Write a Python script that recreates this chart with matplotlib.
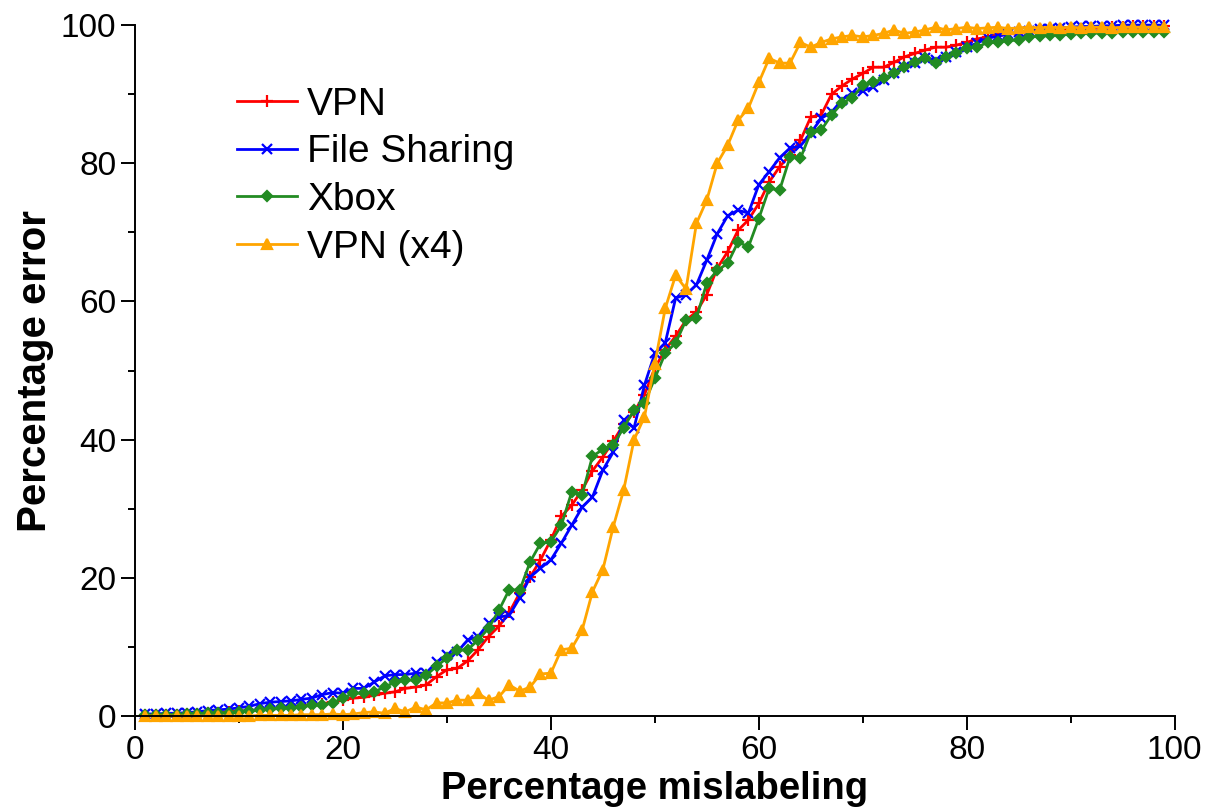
import numpy as np
import matplotlib
matplotlib.use("Agg")
import matplotlib.pyplot as plt
from matplotlib.ticker import MultipleLocator

# --- data ---
x = np.arange(1, 100)

vpn = [0.1, 0.1, 0.2, 0.2, 0.3, 0.3, 0.4, 0.5, 0.6, 0.7,
       0.8, 0.9, 1.0, 1.2, 1.3, 1.5, 1.6, 1.8, 2.0, 2.3,
       2.6, 2.7, 3.0, 3.3, 3.5, 4.0, 4.2, 4.5, 5.7, 6.7,
       6.9, 8.0, 9.6, 11.5, 13.0, 15.0, 17.8, 20.1, 22.6, 25.5,
       28.9, 30.5, 32.7, 35.5, 37.5, 39.8, 42.2, 44.0, 46.5, 50.4,
       53.0, 55.0, 57.3, 58.5, 61.0, 64.8, 67.2, 70.3, 71.8, 74.2,
       77.3, 79.5, 81.2, 83.3, 86.7, 87.0, 90.0, 91.2, 92.2, 93.0,
       93.9, 93.9, 94.6, 95.4, 95.9, 96.4, 96.8, 96.8, 97.1, 97.5,
       98.0, 98.3, 98.5, 98.7, 98.9, 99.0, 99.1, 99.3, 99.4, 99.5,
       99.5, 99.6, 99.6, 99.7, 99.7, 99.8, 99.8, 99.8, 99.8]

file_sharing = [0.3, 0.3, 0.4, 0.4, 0.5, 0.6, 0.8, 0.9, 1.0, 1.2,
                1.4, 1.8, 2.0, 2.1, 2.2, 2.4, 2.6, 3.1, 3.4, 3.3,
                4.0, 4.0, 4.9, 5.8, 6.0, 6.0, 6.2, 6.2, 7.8, 8.8,
                9.3, 11.0, 11.5, 13.4, 14.3, 14.6, 17.1, 20.1, 21.4, 22.6,
                25.0, 27.6, 30.2, 31.7, 35.6, 38.2, 42.8, 41.7, 47.9, 52.5,
                54.0, 60.5, 61.0, 62.4, 66.0, 69.8, 72.4, 73.2, 72.8, 76.9,
                78.8, 80.8, 82.2, 82.5, 84.4, 86.5, 87.4, 89.2, 90.2, 90.5,
                91.0, 92.0, 93.0, 93.9, 94.5, 95.2, 95.0, 95.4, 96.1, 96.8,
                97.4, 98.1, 98.4, 98.7, 99.0, 99.2, 99.4, 99.5, 99.6, 99.7,
                99.8, 99.8, 99.9, 99.9, 100.0, 100.0, 100.0, 100.0, 100.0]

xbox = [0.1, 0.1, 0.2, 0.2, 0.3, 0.3, 0.4, 0.4, 0.5, 0.6,
        0.8, 0.9, 1.0, 1.1, 1.2, 1.3, 1.6, 1.6, 1.9, 2.6,
        3.3, 3.3, 3.5, 4.2, 4.9, 5.2, 5.2, 5.9, 7.2, 8.4,
        9.5, 9.6, 11.0, 12.7, 15.3, 18.3, 18.2, 22.3, 25.0, 25.2,
        27.6, 32.4, 32.0, 37.6, 38.6, 39.3, 41.7, 44.3, 45.3, 48.9,
        52.5, 54.0, 57.3, 57.6, 62.7, 64.5, 65.5, 68.6, 67.9, 72.0,
        76.4, 76.1, 80.9, 80.7, 84.5, 84.8, 87.0, 88.7, 89.5, 91.3,
        91.7, 92.3, 93.0, 93.9, 94.6, 95.2, 94.5, 95.4, 96.0, 96.7,
        96.8, 97.5, 97.5, 97.8, 97.8, 98.3, 98.4, 98.5, 98.6, 98.7,
        98.8, 98.8, 98.9, 98.9, 99.0, 99.0, 99.0, 99.0, 99.0]

vpn_x4 = [0.0, 0.0, 0.0, 0.0, 0.0, 0.0, 0.0, 0.0, 0.0, 0.0,
          0.0, 0.1, 0.1, 0.1, 0.1, 0.2, 0.2, 0.2, 0.3, 0.2,
          0.3, 0.5, 0.6, 0.4, 1.1, 0.6, 1.3, 0.9, 1.9, 1.9,
          2.3, 2.3, 3.3, 2.3, 2.8, 4.5, 3.6, 4.2, 6.1, 6.2,
          9.6, 9.8, 12.4, 18.0, 21.2, 27.4, 32.7, 40.0, 43.3, 51.0,
          59.0, 63.8, 61.8, 71.3, 74.7, 80.0, 82.6, 86.2, 88.0, 91.7,
          95.2, 94.5, 94.5, 97.5, 96.8, 97.5, 98.0, 98.3, 98.5, 98.3,
          98.5, 98.8, 99.3, 98.8, 99.0, 99.3, 99.7, 99.3, 99.5, 99.7,
          99.5, 99.6, 99.7, 99.5, 99.6, 99.7, 99.6, 99.7, 99.6, 99.7,
          99.6, 99.7, 99.7, 99.6, 99.7, 99.7, 99.7, 99.7, 99.7]

series = [
    ("VPN", vpn, "#ff0000", "+", 9),
    ("File Sharing", file_sharing, "#0000ff", "x", 7.5),
    ("Xbox", xbox, "#228b22", "D", 5.5),
    ("VPN (x4)", vpn_x4, "#ffa500", "^", 7.5),
]

plt.rcParams['font.family'] = ['Liberation Sans', 'DejaVu Sans']

fig = plt.figure(figsize=(12.11, 8.10), dpi=100)
ax = fig.add_axes([0.1115, 0.116, 0.8585, 0.853])

for name, ys, col, mk, ms in series:
    ax.plot(x, ys, color=col, marker=mk, markersize=ms, linewidth=2.0,
            markeredgewidth=1.6, label=name, clip_on=False)

ax.set_xlim(0, 100)
ax.set_ylim(0, 100)
ax.xaxis.set_major_locator(MultipleLocator(20))
ax.xaxis.set_minor_locator(MultipleLocator(10))
ax.yaxis.set_major_locator(MultipleLocator(20))
ax.yaxis.set_minor_locator(MultipleLocator(10))
ax.tick_params(which='major', length=10, width=1.4, labelsize=24, direction='out')
ax.tick_params(which='minor', length=5, width=1.4, direction='out')

for side in ['top', 'right']:
    ax.spines[side].set_visible(False)
for side in ['left', 'bottom']:
    ax.spines[side].set_linewidth(1.4)

ax.set_xlabel("Percentage mislabeling", fontsize=27.5, fontweight='bold', labelpad=4)
ax.set_ylabel("Percentage error", fontsize=29, fontweight='bold', labelpad=5)

ax.legend(loc='upper left', bbox_to_anchor=(0.098, 0.911), frameon=False,
          fontsize=28, handlelength=1.55, handletextpad=0.26, labelspacing=0.3,
          borderpad=0, borderaxespad=0, numpoints=1)

fig.savefig("out.png", dpi=100)
